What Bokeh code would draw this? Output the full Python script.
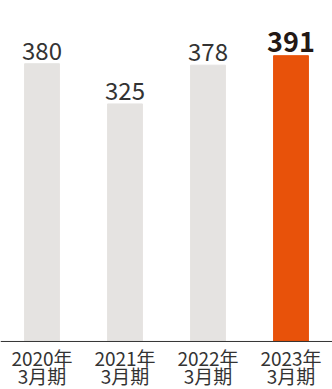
from bokeh.plotting import figure
from bokeh.models import ColumnDataSource, FactorRange, Range1d, Span
from bokeh.core.properties import value
from bokeh.embed import file_html
from bokeh.resources import INLINE

categories = ["2020年3月期", "2021年3月期", "2022年3月期", "2023年3月期"]
year_labels = ["2020年", "2021年", "2022年", "2023年"]
period_labels = ["3月期", "3月期", "3月期", "3月期"]
values = [380, 325, 378, 391]
labels = ["380", "325", "378", "391"]
colors = ["#E5E3E1", "#E5E3E1", "#E5E3E1", "#E8520A"]

FONT = "Noto Sans CJK JP"

src = ColumnDataSource(dict(cat=categories, val=values, lab=labels, col=colors,
                            yl=year_labels, pl=period_labels, zero=[0] * len(categories)))

p = figure(width=332, height=389, x_range=FactorRange(*categories, range_padding=0),
           y_range=Range1d(-65.7, 466.5), output_backend="svg", toolbar_location=None,
           min_border_left=0, min_border_right=0, min_border_top=0, min_border_bottom=0)
p.vbar(x="cat", top="val", width=0.42, color="col", source=src)

last = len(categories) - 1
src_a = ColumnDataSource(dict(cat=categories[:last], val=values[:last], lab=labels[:last]))
src_b = ColumnDataSource(dict(cat=categories[last:], val=values[last:], lab=labels[last:]))
p.text(x="cat", y="val", text="lab", source=src_a, text_align="center", text_baseline="bottom",
       y_offset=-4, text_font=value(FONT), text_font_size="24px", text_color="#333333")
p.text(x="cat", y="val", text="lab", source=src_b, text_align="center", text_baseline="bottom",
       y_offset=-4, text_font=value(FONT), text_font_size="27px", text_font_style="bold",
       text_color="#231815")

p.text(x="cat", y="zero", text="yl", source=src, text_align="center", text_baseline="middle",
       y_offset=16, text_font=value(FONT), text_font_size="19px", text_color="#333333")
p.text(x="cat", y="zero", text="pl", source=src, text_align="center", text_baseline="middle",
       y_offset=34, text_font=value(FONT), text_font_size="19px", text_color="#333333")

p.add_layout(Span(location=0, dimension="width", line_color="#333333", line_width=1))

p.xaxis.visible = False
p.yaxis.visible = False
p.xgrid.visible = False
p.ygrid.visible = False
p.outline_line_color = None

open("out.html", "w").write(file_html(p, INLINE))
